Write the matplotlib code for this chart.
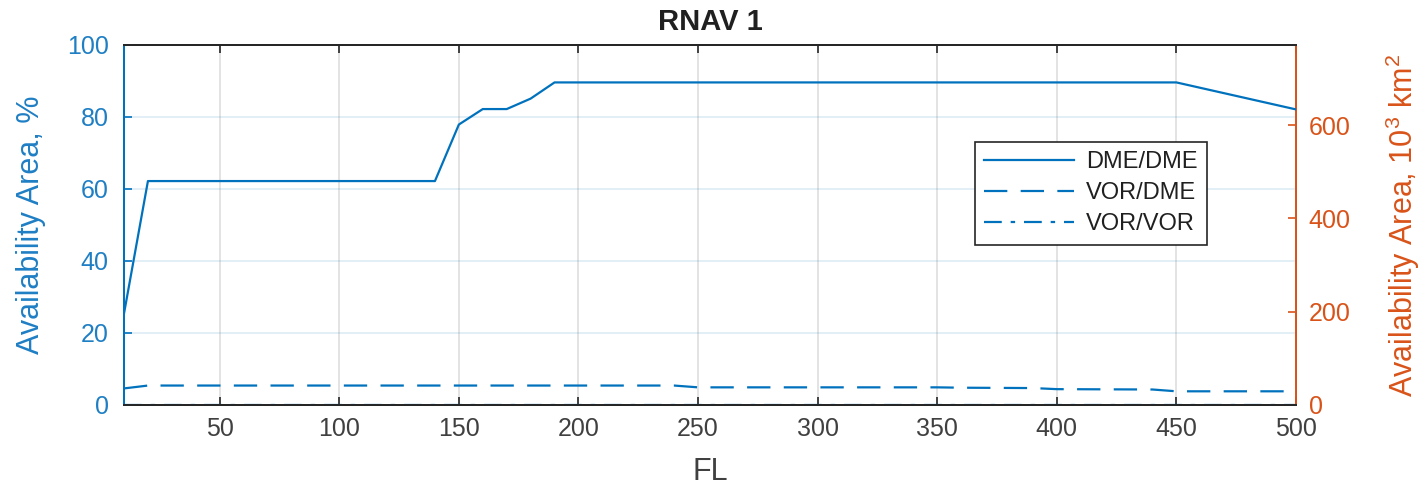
import numpy as np
import matplotlib
matplotlib.use("Agg")
import matplotlib.pyplot as plt

plt.rcParams['font.family'] = ['Liberation Sans', 'DejaVu Sans']
plt.rcParams['mathtext.default'] = 'regular'

# data (FL vs availability, %)
fl_dme_dme = [10, 20, 140, 150, 160, 170, 180, 190, 450, 500]
dme_dme = [25.4, 62.2, 62.2, 77.9, 82.2, 82.2, 85.1, 89.6, 89.6, 82.1]

fl_vor_dme = [10, 20, 240, 250, 350, 360, 390, 400, 440, 450, 500]
vor_dme = [4.6, 5.4, 5.4, 4.9, 4.9, 4.8, 4.7, 4.4, 4.3, 3.8, 3.8]

fl_vor_vor = [10, 500]
vor_vor = [0.0, 0.0]

x_ticks = [50, 100, 150, 200, 250, 300, 350, 400, 450, 500]
left_ticks = [0, 20, 40, 60, 80, 100]
right_ticks = [0, 200, 400, 600]
area_max = 771.6  # 10^3 km^2 matching 100 %

blue = '#0072BD'
blue_txt = '#1f7fc4'
orange = '#D95319'
dark = '#262626'

fig = plt.figure(figsize=(14.27, 4.9), dpi=100)
ax = fig.add_axes([0.0869, 0.1735, 0.8213, 0.7347])
ax2 = ax.twinx()

ax.plot(fl_dme_dme, dme_dme, color=blue, lw=1.6, ls='-', label='DME/DME', zorder=3)
ax.plot(fl_vor_dme, vor_dme, color=blue, lw=1.6, ls=(0, (10.5, 6)), label='VOR/DME', zorder=3)
ax.plot(fl_vor_vor, vor_vor, color=blue, lw=1.6, ls=(0, (8, 4, 2, 4)), label='VOR/VOR', zorder=1)

ax.set_xlim(10, 500)
ax.set_ylim(0, 100)
ax.set_xticks(x_ticks)
ax.set_yticks(left_ticks)
ax2.set_ylim(0, area_max)
ax2.set_yticks(right_ticks)

# grid: vertical grey, horizontal light blue
ax.xaxis.grid(True, color='#dedede', lw=1.2)
ax.yaxis.grid(True, color=blue, alpha=0.13, lw=1.2)
ax.set_axisbelow(True)

ax.tick_params(axis='x', direction='in', length=6, width=1.2, colors=dark,
               labelcolor='#404040', labelsize=18, top=True, pad=9)
ax.tick_params(axis='y', direction='in', length=6, width=1.2, colors=blue,
               labelcolor=blue_txt, labelsize=18, pad=11)
ax2.tick_params(axis='y', direction='in', length=6, width=1.2, colors=orange,
                labelsize=18, pad=9)

for a in (ax, ax2):
    a.spines['top'].set_color(dark)
    a.spines['bottom'].set_color(dark)
    a.spines['left'].set_color(blue)
    a.spines['right'].set_color(orange)
    for s in a.spines.values():
        s.set_linewidth(1.4)

ax.set_xlabel('FL', fontsize=22, color='#404040', labelpad=11)
ax.set_ylabel('Availability Area, %', fontsize=22, color=blue_txt, labelpad=15)
ax2.set_ylabel('Availability Area, 10$^3$ km$^2$', fontsize=22, color=orange, labelpad=24)
ax.set_title('RNAV 1', fontsize=21, fontweight='bold', color='#202020', pad=11)

leg = ax.legend(loc='upper left', bbox_to_anchor=(0.726, 0.731), fontsize=17,
                frameon=True, fancybox=False, edgecolor=dark, framealpha=1,
                handlelength=3.8, borderpad=0.4, labelspacing=0.38,
                handletextpad=0.5, borderaxespad=0)
leg.get_frame().set_linewidth(1.2)
for t in leg.get_texts():
    t.set_color('#202020')

ax.set_zorder(ax2.get_zorder() + 1)
ax.patch.set_visible(False)

fig.savefig('out.png', dpi=100)
